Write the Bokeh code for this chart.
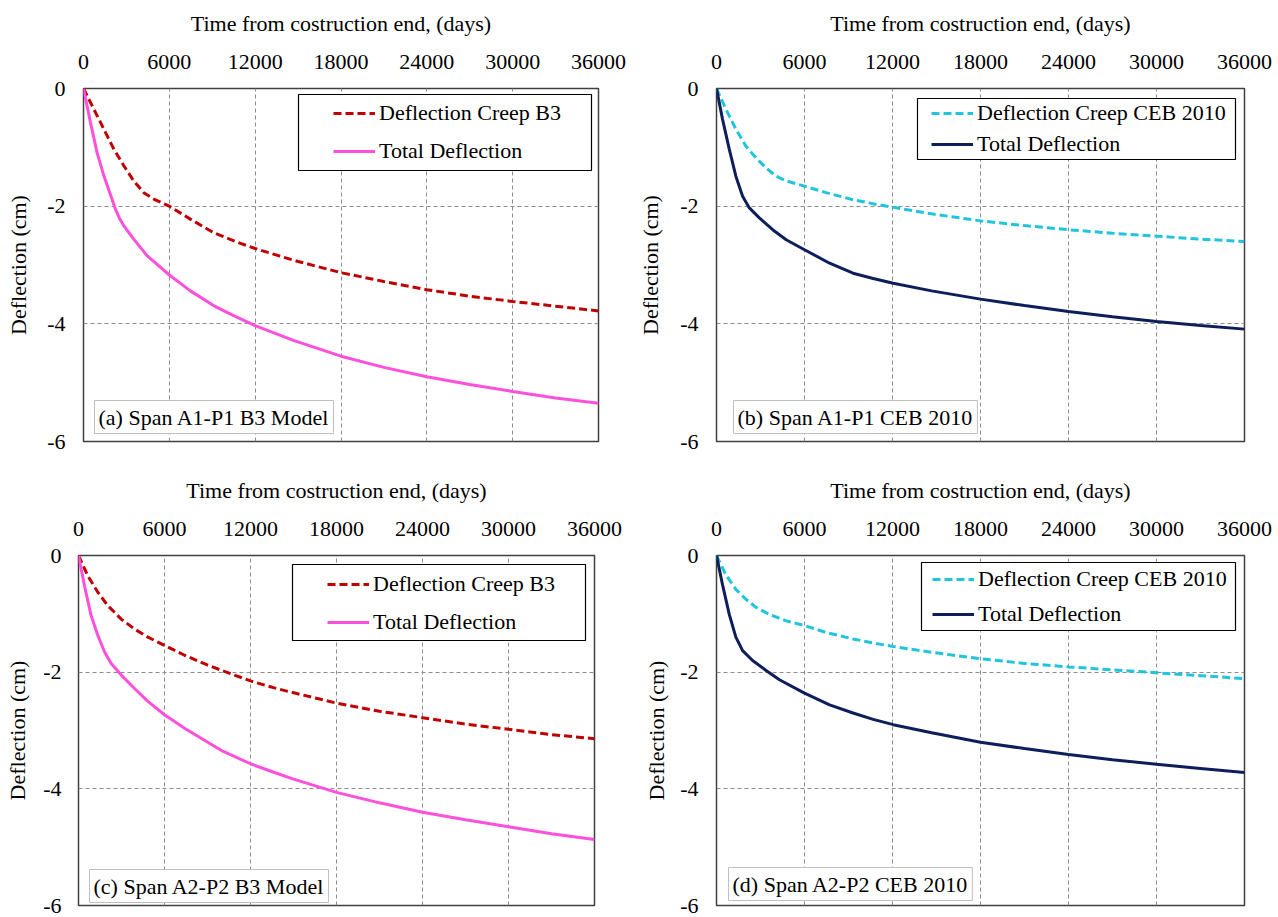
from bokeh.plotting import figure
from bokeh.layouts import row, column
from bokeh.models import Range1d, FixedTicker, Legend, LegendItem, BoxAnnotation, Label
from bokeh.embed import file_html
from bokeh.resources import INLINE

# ---------------- data ----------------
x_ticks = [0, 6000, 12000, 18000, 24000, 30000, 36000]
y_ticks = [-6, -4, -2, 0]
x_title = "Time from costruction end, (days)"
y_title = "Deflection (cm)"

# (a) Span A1-P1, B3 model
a_creep_days = [0, 720, 1420, 2120, 2810, 3510, 4210, 4910, 6000, 7470, 9090, 10720, 12000, 13740, 15000, 18000, 21000, 24000, 27000, 30000, 33000, 36000]
a_creep_defl = [0, -0.35, -0.69, -1.03, -1.31, -1.57, -1.77, -1.88, -2.00, -2.22, -2.45, -2.61, -2.72, -2.85, -2.94, -3.13, -3.28, -3.42, -3.53, -3.62, -3.70, -3.78]
a_total_days = [0, 490, 950, 1420, 1880, 2230, 2500, 2810, 3510, 4440, 6000, 7470, 9090, 10490, 12000, 14670, 18000, 21000, 24000, 27000, 30000, 33000, 36000]
a_total_defl = [0, -0.58, -1.09, -1.48, -1.80, -2.05, -2.20, -2.33, -2.56, -2.84, -3.17, -3.44, -3.69, -3.86, -4.03, -4.28, -4.55, -4.74, -4.90, -5.03, -5.15, -5.26, -5.35]

# (b) Span A1-P1, CEB 2010
b_creep_days = [0, 640, 1320, 2010, 2690, 3380, 4060, 4750, 6000, 7480, 9310, 10680, 12050, 14670, 18000, 21000, 24000, 27000, 30000, 33000, 36000]
b_creep_defl = [0, -0.35, -0.69, -0.98, -1.18, -1.35, -1.49, -1.57, -1.66, -1.77, -1.89, -1.96, -2.02, -2.13, -2.25, -2.33, -2.40, -2.46, -2.51, -2.56, -2.60]
b_total_days = [0, 410, 870, 1320, 1780, 2240, 2920, 3830, 4750, 6000, 7710, 9310, 10680, 12050, 14670, 18000, 21000, 24000, 27000, 30000, 33000, 36000]
b_total_defl = [0, -0.52, -1.03, -1.49, -1.83, -2.03, -2.20, -2.40, -2.57, -2.74, -2.97, -3.14, -3.23, -3.31, -3.44, -3.58, -3.69, -3.79, -3.88, -3.96, -4.03, -4.09]

# (c) Span A2-P2, B3 model
c_creep_days = [0, 650, 1350, 2050, 2980, 3910, 4840, 6000, 7400, 9020, 10650, 12000, 13670, 14950, 18000, 21000, 24000, 27000, 30000, 33000, 36000]
c_creep_defl = [0, -0.35, -0.63, -0.86, -1.09, -1.26, -1.40, -1.54, -1.71, -1.88, -2.03, -2.15, -2.27, -2.35, -2.53, -2.67, -2.78, -2.89, -2.98, -3.07, -3.14]
c_total_days = [0, 420, 880, 1350, 1810, 2280, 2980, 3910, 4840, 6000, 7400, 9020, 9950, 12000, 13670, 14950, 18000, 21000, 24000, 27000, 30000, 33000, 36000]
c_total_defl = [0, -0.52, -1.03, -1.37, -1.65, -1.85, -2.05, -2.28, -2.50, -2.73, -2.96, -3.20, -3.34, -3.57, -3.72, -3.83, -4.06, -4.24, -4.40, -4.53, -4.65, -4.77, -4.87]

# (d) Span A2-P2, CEB 2010
d_creep_days = [0, 640, 1320, 2010, 2690, 3610, 4750, 6000, 7480, 9310, 10680, 12050, 14670, 18000, 21000, 24000, 27000, 30000, 33000, 36000]
d_creep_defl = [0, -0.33, -0.58, -0.75, -0.89, -1.01, -1.12, -1.20, -1.32, -1.43, -1.50, -1.56, -1.66, -1.77, -1.85, -1.91, -1.96, -2.01, -2.06, -2.11]
d_total_days = [0, 410, 870, 1320, 1780, 2460, 3380, 4290, 6000, 7710, 9310, 10680, 12050, 14670, 18000, 21000, 24000, 27000, 30000, 33000, 36000]
d_total_defl = [0, -0.50, -1.01, -1.40, -1.63, -1.80, -1.97, -2.13, -2.36, -2.56, -2.70, -2.81, -2.90, -3.04, -3.20, -3.31, -3.41, -3.50, -3.58, -3.65, -3.72]

series_names_b3 = ["Deflection Creep B3", "Total Deflection"]
series_names_ceb = ["Deflection Creep CEB 2010", "Total Deflection"]
panel_labels = ["(a) Span A1-P1 B3 Model", "(b) Span A1-P1 CEB 2010",
                "(c) Span A2-P2 B3 Model", "(d) Span A2-P2 CEB 2010"]

# ---------------- style ----------------
FONT = "Liberation Serif"
FS = "22px"
RED = "#c00000"
PINK = "#ff50dc"
CYAN = "#20c4dc"
NAVY = "#0e1e5b"


def make_panel(width, height, borders, ystand, creep, total, names, colors, label,
               leg, box, lab):
    bl, bt, br, bb = borders
    p = figure(width=width, height=height, x_range=Range1d(0, 36000), y_range=Range1d(-6, 0),
               x_axis_location="above", output_backend="svg", toolbar_location=None,
               min_border_left=bl, min_border_top=bt, min_border_right=br, min_border_bottom=bb,
               x_axis_label=x_title, y_axis_label=y_title)
    p.background_fill_color = "white"
    p.border_fill_color = "white"
    p.outline_line_color = "#404040"
    p.outline_line_width = 1.5
    for ax in (p.xaxis[0], p.yaxis[0]):
        ax.axis_line_color = None
        ax.major_tick_line_color = None
        ax.minor_tick_line_color = None
        ax.major_tick_out = 0
        ax.major_tick_in = 0
        ax.minor_tick_out = 0
        ax.minor_tick_in = 0
        ax.major_label_text_font = FONT
        ax.major_label_text_font_size = FS
        ax.major_label_text_color = "black"
        ax.axis_label_text_font = FONT
        ax.axis_label_text_font_size = FS
        ax.axis_label_text_font_style = "normal"
        ax.axis_label_text_color = "black"
    p.xaxis.ticker = FixedTicker(ticks=x_ticks)
    p.yaxis.ticker = FixedTicker(ticks=y_ticks)
    p.xaxis.major_label_overrides = {v: str(v) for v in x_ticks}
    p.yaxis.major_label_overrides = {v: str(v) for v in y_ticks}
    p.xaxis.major_label_standoff = 20
    p.xaxis.axis_label_standoff = 16
    p.yaxis.major_label_standoff = ystand[0]
    p.yaxis.axis_label_standoff = ystand[1]
    for g in (p.xgrid[0], p.ygrid[0]):
        g.grid_line_color = "#8c8c8c"
        g.grid_line_dash = "4 3"
        g.grid_line_width = 1

    r1 = p.line(creep[0], creep[1], line_color=colors[0], line_width=3, line_dash="8 4")
    r2 = p.line(total[0], total[1], line_color=colors[1], line_width=3)

    bx = BoxAnnotation(left=box[0], right=box[1], top=box[2], bottom=box[3],
                       left_units="screen", right_units="screen",
                       top_units="screen", bottom_units="screen",
                       fill_color="white", fill_alpha=1.0,
                       line_color="black", line_width=1.2, line_alpha=1.0)
    p.add_layout(bx)

    legend = Legend(items=[LegendItem(label=names[0], renderers=[r1]),
                           LegendItem(label=names[1], renderers=[r2])],
                    location=(leg[0], leg[1]), padding=0, margin=0, spacing=leg[2],
                    glyph_width=42, glyph_height=26, label_height=26, label_standoff=4,
                    label_text_font=FONT, label_text_font_size=FS, label_text_color="black",
                    border_line_alpha=0, background_fill_alpha=0)
    p.add_layout(legend)

    lb = Label(x=lab[0], y=lab[1], x_units="screen", y_units="screen", text=label,
               text_font=FONT, text_font_size=FS, text_color="black",
               text_align="left", text_baseline="bottom",
               background_fill_color="white", background_fill_alpha=1.0,
               border_line_color="#c0c0c0", border_line_width=1, padding=4)
    p.add_layout(lb)
    return p


pa = make_panel(626, 465, (83, 88, 28, 24), (18, 13),
                (a_creep_days, a_creep_defl), (a_total_days, a_total_defl),
                series_names_b3, (RED, PINK), panel_labels[0],
                leg=(250, 277, 12), box=(215, 508, 347, 271), lab=(11, 8))
pb = make_panel(650, 465, (90, 88, 32, 24), (18, 14),
                (b_creep_days, b_creep_defl), (b_total_days, b_total_defl),
                series_names_ceb, (CYAN, NAVY), panel_labels[1],
                leg=(215, 284, 5), box=(201, 519, 343, 282), lab=(17, 8))
pc = make_panel(626, 452, (78, 90, 32, 12), (17, 10),
                (c_creep_days, c_creep_defl), (c_total_days, c_total_defl),
                series_names_b3, (RED, PINK), panel_labels[2],
                leg=(249, 270, 12), box=(214, 507, 341, 265), lab=(11, 3))
pd_ = make_panel(650, 452, (90, 90, 32, 12), (18, 8),
                 (d_creep_days, d_creep_defl), (d_total_days, d_total_defl),
                 series_names_ceb, (CYAN, NAVY), panel_labels[3],
                 leg=(216, 278, 9), box=(205, 519, 343, 275), lab=(12, 5))

layout = column(row(pa, pb), row(pc, pd_))
open("out.html", "w").write(file_html(layout, INLINE))
